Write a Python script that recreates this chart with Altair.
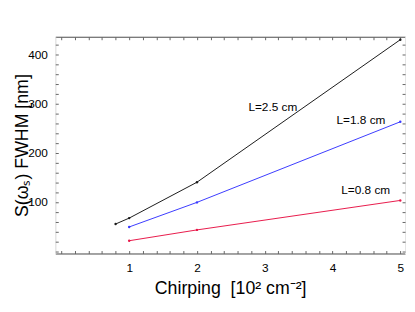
import altair as alt
import pandas as pd

# Data
chirp_25 = [0.8, 1, 2, 5]
fwhm_25 = [55, 67, 140, 430]
chirp_18 = [1, 2, 5]
fwhm_18 = [49, 99, 263]
chirp_08 = [1, 2, 5]
fwhm_08 = [21, 43, 103]
series = ["L=2.5 cm", "L=1.8 cm", "L=0.8 cm"]
colors = ["#1a1a1a", "#3a3aff", "#e8194a"]

label_text = ["L=2.5 cm", "L=1.8 cm", "L=0.8 cm"]
label_x = [3.12, 4.42, 4.49]
label_y = [293, 267, 125]

x_major = [1, 2, 3, 4, 5]
x_minor = [round(i * 0.2, 1) for i in range(0, 26)]
y_major = [100, 200, 300, 400]
y_minor = list(range(0, 440, 20))

rows = []
for name, xs, ys in zip(series, [chirp_25, chirp_18, chirp_08], [fwhm_25, fwhm_18, fwhm_08]):
    for xv, yv in zip(xs, ys):
        rows.append({"series": name, "x": xv, "y": yv})
df = pd.DataFrame(rows)
labels = pd.DataFrame({"text": label_text, "x": label_x, "y": label_y})

xs = alt.Scale(domain=[-0.09, 5.07], nice=False, zero=False)
ys = alt.Scale(domain=[-5, 436], nice=False, zero=False)
col = alt.Color("series:N", scale=alt.Scale(domain=series, range=colors), legend=None)

FONT = "Liberation Sans"

def ax(orient, **kw):
    base = dict(orient=orient, grid=False, title=None, labels=False, ticks=False, domain=False)
    base.update(kw)
    return alt.Axis(**base)

lines = alt.Chart(df).mark_line(strokeWidth=1).encode(
    x=alt.X("x:Q", scale=xs, axis=ax("bottom", labels=True, values=x_major, labelFontSize=12,
                                       labelFont=FONT, labelColor="black", labelPadding=9,
                                       domain=True, domainColor="#555", domainWidth=1,
                                       title="Chirping\u00a0\u00a0[10² cm⁻²]", titleFont=FONT,
                                       titleFontSize=18, titleFontWeight="normal",
                                       titleColor="black", titleY=36, titleBaseline="middle")),
    y=alt.Y("y:Q", scale=ys, axis=ax("left", labels=True, values=y_major, labelFontSize=12,
                                     labelFont=FONT, labelColor="black", labelPadding=8,
                                     domain=True, domainColor="#e6e6e6", domainWidth=1,
                                     title="S(ωₛ) FWHM [nm]", titleFont=FONT,
                                     titleFontSize=18, titleFontWeight="normal",
                                     titleColor="black", titleX=-33, titleBaseline="middle")),
    color=col,
    detail="series:N",
)

points = alt.Chart(df).mark_point(size=6, filled=True, opacity=1).encode(
    x=alt.X("x:Q", scale=xs, axis=ax("top", domain=True, domainColor="#555", domainWidth=1)),
    y=alt.Y("y:Q", scale=ys, axis=ax("right", domain=True, domainColor="#e6e6e6", domainWidth=1)),
    color=col,
)

tick_kw = dict(ticks=True, tickSize=3, offset=-3, tickColor="#666", tickWidth=1)
ticks_a = alt.Chart(df).mark_point(opacity=0).encode(
    x=alt.X("x:Q", scale=xs, axis=ax("bottom", values=x_minor, **tick_kw)),
    y=alt.Y("y:Q", scale=ys, axis=ax("left", values=y_minor, **tick_kw)),
)
ticks_b = alt.Chart(df).mark_point(opacity=0).encode(
    x=alt.X("x:Q", scale=xs, axis=ax("top", values=x_minor, **tick_kw)),
    y=alt.Y("y:Q", scale=ys, axis=ax("right", values=y_minor, **tick_kw)),
)

text = alt.Chart(labels).mark_text(fontSize=12, font=FONT, color="black").encode(
    x=alt.X("x:Q", scale=xs, axis=None),
    y=alt.Y("y:Q", scale=ys, axis=None),
    text="text:N",
)

chart = alt.layer(lines, points, ticks_a, ticks_b, text).resolve_axis(
    x="independent", y="independent"
).properties(
    width=355, height=220,
    autosize=alt.AutoSizeParams(type="none"),
    padding={"left": 48, "top": 27, "right": 2, "bottom": 45},
).configure_view(stroke=None).configure(background="white")

chart.save("out.html", embed_options={"renderer": "svg", "actions": False})
